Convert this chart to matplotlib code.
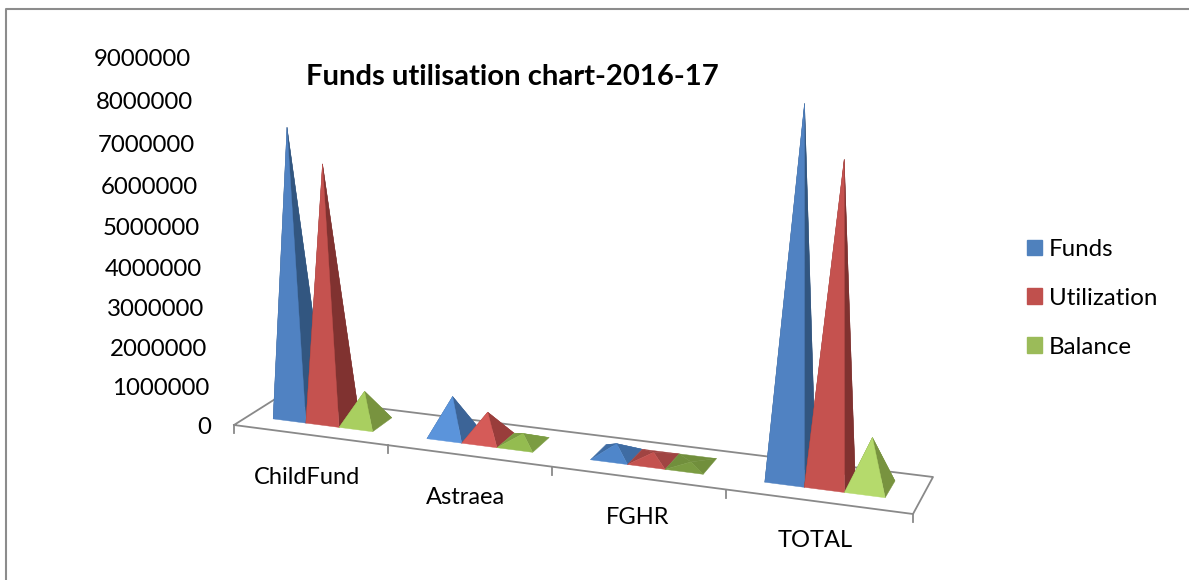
import numpy as np
import matplotlib
matplotlib.use("Agg")
import matplotlib.pyplot as plt
from matplotlib.patches import Patch, Polygon

categories = ["ChildFund", "Astraea", "FGHR", "TOTAL"]
funds = [7220000, 950000, 270000, 8520000]
utilization = [6400000, 660000, 170000, 7370000]
balance = [810000, 230000, 50000, 1170000]
series_names = ["Funds", "Utilization", "Balance"]
y_ticks = [0, 1000000, 2000000, 3000000, 4000000, 5000000, 6000000, 7000000, 8000000, 9000000]

legend_colors = ["#4F81BD", "#C0504D", "#9BBB59"]
# front face, shaded face for each category
blue_faces = [("#5082C2", "#325680"), ("#5B94DB", "#3C6497"), ("#4F86CA", "#3F6CA3"), ("#5082C2", "#325680")]
red_faces = [("#C5524F", "#803230"), ("#D55B58", "#993D3B"), ("#C4524F", "#A04442"), ("#C5524F", "#803230")]
green_faces = [("#A9CF60", "#78933F"), ("#94BC50", "#7B9C42"), ("#7B9C42", "#718F3C"), ("#B5DA6C", "#78933F")]
all_faces = [blue_faces, red_faces, green_faces]

# floor corners in image pixels, and where upright lines meet below the chart
front_left = (234, 425)
front_right = (913, 514)
back_right = (933, 477)
back_left = (280, 396)
vanish = (567, 6400)
height_scale = -0.00643 / 1000000


def floor_matrix():
    src = [(0, 0), (4, 0), (4, 1), (0, 1)]
    dst = [front_left, front_right, back_right, back_left]
    a = []
    b = []
    for (u, d), (x, y) in zip(src, dst):
        a.append([u, d, 1, 0, 0, 0, -u * x, -d * x])
        a.append([0, 0, 0, u, d, 1, -u * y, -d * y])
        b.extend([x, y])
    h = np.linalg.solve(np.array(a, dtype=float), np.array(b, dtype=float))
    return np.append(h, 1).reshape(3, 3)


H = floor_matrix()


def project(u, d, value=0):
    p = H @ np.array([u, d, 1.0])
    p = p + value * height_scale * np.array([vanish[0], vanish[1], 1.0])
    return p[0] / p[2], p[1] / p[2]


def draw_pyramid(ax, u0, u1, d0, d1, value, front, shade, z):
    a = project(u0, d0)
    b = project(u1, d0)
    c = project(u1, d1)
    d = project(u0, d1)
    top = project((u0 + u1) / 2, (d0 + d1) / 2, value)
    # far faces first
    for pts, col in [((d, c, top), shade), ((a, d, top), shade), ((b, c, top), shade), ((a, b, top), front)]:
        ax.add_patch(Polygon(pts, closed=True, facecolor=col, edgecolor=col, lw=0.3, zorder=z))


fig = plt.figure(figsize=(11.89, 5.8), dpi=100)
ax = fig.add_axes([0, 0, 1, 1])
ax.set_xlim(0, 1189)
ax.set_ylim(580, 0)
ax.axis("off")

font = "Lato"
line_col = "#898989"

# chart border, open at the right and bottom
ax.plot([6, 6, 1189], [580, 8.5, 8.5], color="#8c8c8c", lw=1.5, zorder=1)

# floor and ticks
corners = [project(0, 0), project(4, 0), project(4, 1), project(0, 1), project(0, 0)]
ax.plot([p[0] for p in corners], [p[1] for p in corners], color=line_col, lw=1.3, zorder=2)
for k in range(len(categories) + 1):
    x, y = project(k, 0)
    ax.plot([x, x], [y, y + 8], color=line_col, lw=1.3, zorder=2)

# pyramids
start = 0.165
width = 0.218
for i in range(len(categories)):
    for s, values in enumerate([funds, utilization, balance]):
        u0 = i + start + s * width
        front, shade = all_faces[s][i]
        draw_pyramid(ax, u0, u0 + width, 0.31, 0.77, values[i], front, shade, 3 + i + s * 0.1)

# value labels
for v in y_ticks:
    x, y = project(0, 0, v)
    ax.text(x - 23, y + 2, str(v), ha="right", va="center", fontsize=17.3, family=font, color="black")

# category labels
label_shift = [(-3, 43), (-3, 42), (0, 40), (-3, 39)]
for i, name in enumerate(categories):
    x, y = project(i + 0.5, 0)
    ax.text(x + label_shift[i][0], y + label_shift[i][1], name, ha="center", va="center",
            fontsize=17, family=font, color="black")

ax.text(512, 77, "Funds utilisation chart-2016-17", ha="center", va="center", fontsize=21.1,
        family=font, fontweight="bold", color="black")

handles = [Patch(facecolor=c, edgecolor=c) for c in legend_colors]
ax.legend(handles, series_names, loc="upper left", bbox_to_anchor=(1027, 239), bbox_transform=ax.transData,
          frameon=False, prop={"family": font, "size": 17.4}, handlelength=0.62, handleheight=0.62,
          handletextpad=0.29, labelspacing=1.15, borderpad=0, borderaxespad=0)

fig.savefig("out.png", dpi=100)
